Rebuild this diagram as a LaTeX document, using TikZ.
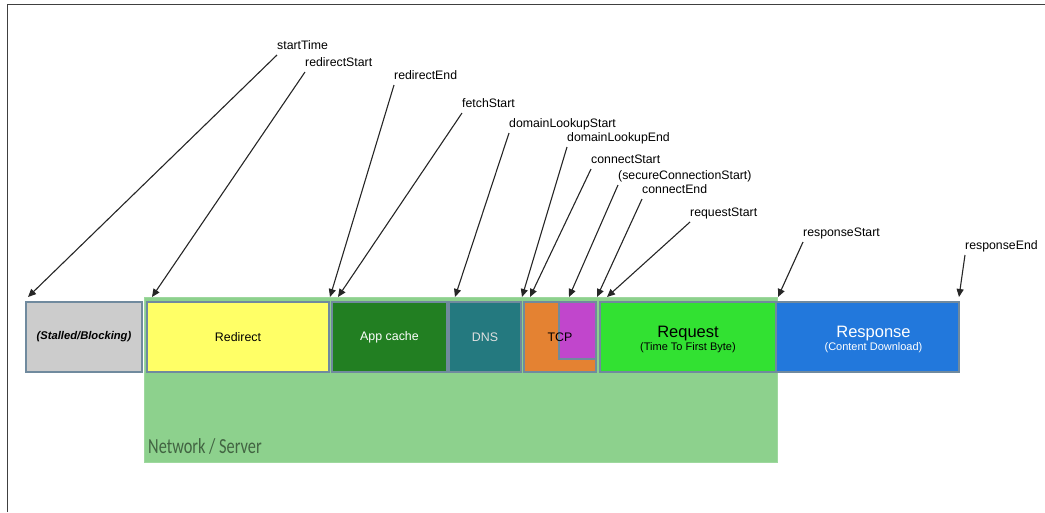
\documentclass[tikz,border=0pt]{standalone}
\usepackage{fontspec}
\setmainfont{Liberation Sans}
\newfontfamily\netfont[FakeStretch=0.76]{Carlito}
\usetikzlibrary{arrows.meta,positioning}
\definecolor{stallgray}{RGB}{204,204,204}
\definecolor{redirectyellow}{RGB}{255,255,102}
\definecolor{appgreen}{RGB}{34,127,34}
\definecolor{dnsteal}{RGB}{36,121,127}
\definecolor{tcporange}{RGB}{228,130,50}
\definecolor{tlspurple}{RGB}{193,70,204}
\definecolor{reqgreen}{RGB}{50,225,50}
\definecolor{respblue}{RGB}{34,120,220}
\definecolor{netgreen}{RGB}{141,209,141}
\definecolor{netdark}{RGB}{66,100,66}
\definecolor{barline}{RGB}{112,138,158}

\begin{document}
\begin{tikzpicture}[x=1pt, y=-1pt,
    phase/.style={draw=barline, line width=1.3pt, outer sep=0pt, minimum height=70pt, inner sep=0pt, font=\fontsize{12.4}{14}\selectfont},
    evt/.style={anchor=south west, inner xsep=0pt, inner ysep=3pt, text height=9pt, text depth=2.5pt, font=\fontsize{12.3}{14}\selectfont},
    ptr/.style={draw=black!85, line width=1.1pt, -{Triangle[length=8pt,width=7pt]}}]
    \useasboundingbox (0,0) rectangle (1045,512);
    % frame of the screenshot
    \draw[black!75, line width=1.5pt] (7.5,512) -- (7.5,4.5) -- (1045,4.5);

    % network / server area
    \node[fill=netgreen, draw=netgreen!85!white, minimum width=633pt, minimum height=165pt, inner sep=0pt, outer sep=0pt, anchor=north west] (net) at (144,297) {};
    \node[anchor=base west, inner sep=0pt, text=netdark, font=\netfont\fontsize{21.5}{24}\selectfont] (netlbl) at (148,453) {Network / Server};

    % phases
    \node[phase, fill=stallgray, minimum width=116pt, anchor=north west, font=\fontsize{11.2}{13}\selectfont\bfseries\itshape] (stall) at (26,302) {(Stalled/Blocking)};
    \node[phase, fill=redirectyellow, minimum width=182pt, right=5pt of stall] (redir) {Redirect};
    \node[phase, fill=appgreen, text=white, minimum width=115pt, right=3pt of redir] (appc) {App cache};
    \node[phase, fill=dnsteal, text=white!88!black, minimum width=72pt, right=2pt of appc] (dns) {DNS};
    \node[phase, fill=tcporange, minimum width=72pt, right=3pt of dns] (tcp) {};
    \node[phase, fill=tlspurple, minimum width=37pt, minimum height=57pt, anchor=north east] (tls) at (tcp.north east) {};
    \node[font=\fontsize{12.4}{14}\selectfont] (tcptxt) at (tcp.center) {TCP};
    \node[phase, fill=reqgreen, minimum width=176pt, right=4pt of tcp] (req) {};
    \node[align=center] (reqtxt) at ([yshift=-2.5pt]req.center) {{\fontsize{16.5}{18}\selectfont Request}\\[1pt]{\fontsize{11}{12}\selectfont (Time To First Byte)}};
    \node[phase, fill=respblue, minimum width=183pt, right=0pt of req] (resp) {};
    \node[align=center, text=white] (resptxt) at ([xshift=6pt, yshift=-2.5pt]resp.center) {{\fontsize{16.5}{18}\selectfont Response}\\[1pt]{\fontsize{11}{12}\selectfont (Content Download)}};

    % timing events
    \node[evt] (tStart) at (277,55) {startTime};
    \node[evt] (rStart) at (305,72) {redirectStart};
    \node[evt] (rEnd) at (394,85) {redirectEnd};
    \node[evt] (fStart) at (462,113) {fetchStart};
    \node[evt] (dStart) at (509,133) {domainLookupStart};
    \node[evt] (dEnd) at (567,147) {domainLookupEnd};
    \node[evt] (cStart) at (591,169) {connectStart};
    \node[evt] (sStart) at (618,185) {(secureConnectionStart)};
    \node[evt] (cEnd) at (642,199) {connectEnd};
    \node[evt] (qStart) at (690,222) {requestStart};
    \node[evt] (pStart) at (803,242) {responseStart};
    \node[evt] (pEnd) at (965,255) {responseEnd};

    \coordinate (atStart) at (28,297);
    \coordinate (arStart) at (152,297);
    \coordinate (arEnd) at (330,297);
    \coordinate (afStart) at (338,297);
    \coordinate (adStart) at (455,297);
    \coordinate (adEnd) at (522,297);
    \coordinate (acStart) at (530,297);
    \coordinate (asStart) at (569,297);
    \coordinate (acEnd) at (597,297);
    \coordinate (aqStart) at (607,297);
    \coordinate (apStart) at (778,297);
    \coordinate (apEnd) at (959,297);

    \draw[ptr] (tStart.south west) -- (atStart);
    \draw[ptr] (rStart.south west) -- (arStart);
    \draw[ptr] (rEnd.south west) -- (arEnd);
    \draw[ptr] (fStart.south west) -- (afStart);
    \draw[ptr] (dStart.south west) -- (adStart);
    \draw[ptr] (dEnd.south west) -- (adEnd);
    \draw[ptr] (cStart.south west) -- (acStart);
    \draw[ptr] (sStart.south west) -- (asStart);
    \draw[ptr] (cEnd.south west) -- (acEnd);
    \draw[ptr] (qStart.south west) -- (aqStart);
    \draw[ptr] (pStart.south west) -- (apStart);
    \draw[ptr] (pEnd.south west) -- (apEnd);
\end{tikzpicture}
\end{document}
